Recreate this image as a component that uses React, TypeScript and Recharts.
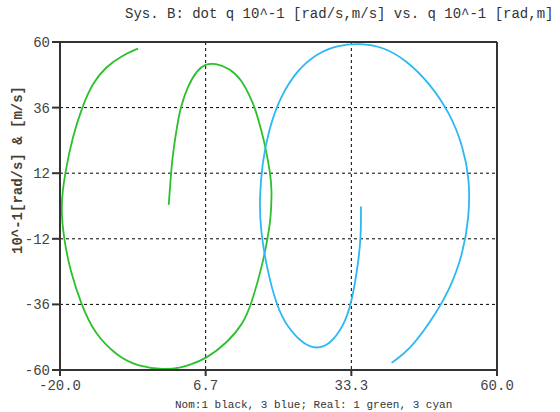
import { CartesianGrid, Line, LineChart, ReferenceLine, XAxis, YAxis } from 'recharts';

const xTicks = [-20, 6.667, 33.333, 60];
const yTicks = [-60, -36, -12, 12, 36, 60];

// Real 1 (green) trajectory
const greenX = [-0.1, 0.2, 0.5, 1.4, 2.05, 3.3, 5.1, 6.6, 8.4, 11.1, 13.3, 14.8, 15.7, 17.0, 17.6, 18.5, 18.8, 18.6, 18.0, 17.0, 15.0, 13.6, 10.6, 6.7, 3.9, 2.1, -1.0, -5.9, -9.5, -13.8, -16.1, -18.1, -19.3, -19.9, -19.1, -17.7, -16.0, -14.1, -11.65, -8.6, -5.7];
const greenY = [0.4, 8.3, 16.8, 29, 35.9, 43.6, 49.7, 51.9, 52.3, 50.3, 46, 39.9, 36, 26.6, 21.7, 12, 5.9, -4.4, -12, -22.1, -36, -42.8, -50.1, -55.9, -58, -59.2, -59.9, -58.6, -55, -46.4, -36, -24, -12, 0, 12, 25.3, 35.9, 44.8, 50.9, 55.1, 57.6];

// Real 3 (cyan) trajectory
const cyanX = [35.1, 35.1, 34.6, 33.4, 31.9, 29.4, 27.0, 24.6, 21.5, 19.7, 17.9, 16.7, 16.5, 17.0, 18.2, 20.3, 23.4, 27.0, 30.7, 34.9, 39.2, 43.45, 47.7, 51.4, 53.8, 55.0, 54.9, 53.8, 51.4, 47.7, 44.05, 40.7];
const cyanY = [-0.2, -11.2, -20.9, -35.5, -44, -50.7, -52.3, -50.7, -44, -36.7, -23.3, -8.7, 2.2, 15.6, 27.8, 39.9, 49.7, 55.8, 58.8, 59.6, 58.2, 53.3, 44.8, 33.9, 21.7, 9.5, -3.9, -17.2, -30.6, -42.8, -52.5, -57.4];

const zip = (xs: number[], ys: number[]) => xs.map((x, i) => ({ x, y: ys[i] }));
const green = zip(greenX, greenY);
const cyan = zip(cyanX, cyanY);

const mono = '"Liberation Mono", "DejaVu Sans Mono", monospace';
const tick = { fill: '#444', fontSize: 14, fontFamily: mono };

export default function App() {
  return (
    <div style={{ position: 'absolute', left: 0, top: 0, width: 560, height: 412, background: '#fff', overflow: 'hidden' }}>
      <div style={{ position: 'absolute', left: 125, top: 6, fontFamily: mono, fontSize: 14, color: '#333', whiteSpace: 'nowrap' }}>
        Sys. B: dot q 10^-1 [rad/s,m/s] vs. q 10^-1 [rad,m]
      </div>
      <div
        style={{
          position: 'absolute',
          left: 18,
          top: 170,
          transform: 'translate(-50%, -50%) rotate(-90deg)',
          fontFamily: mono,
          fontSize: 14,
          fontWeight: 700,
          color: '#4a4030',
          whiteSpace: 'nowrap',
        }}
      >
        10^-1[rad/s] &amp; [m/s]
      </div>
      <LineChart width={560} height={412} margin={{ top: 42, right: 63, left: 0, bottom: 0 }}>
        <CartesianGrid stroke="#000" strokeDasharray="3 3" />
        <XAxis
          dataKey="x"
          type="number"
          domain={[-20, 60]}
          ticks={xTicks}
          tickFormatter={(v: number) => v.toFixed(1)}
          allowDuplicatedCategory={false}
          height={42}
          tick={tick}
          tickSize={6}
          tickMargin={4}
          stroke="#333"
          strokeWidth={2}
        />
        <YAxis
          dataKey="y"
          type="number"
          domain={[-60, 60]}
          ticks={yTicks}
          width={60}
          tick={tick}
          tickSize={8}
          tickMargin={2}
          stroke="#333"
          strokeWidth={2}
        />
        <ReferenceLine y={60} stroke="#333" strokeWidth={2} />
        <ReferenceLine x={60} stroke="#333" strokeWidth={2} />
        <Line data={green} dataKey="y" type="basis" stroke="#2cc02c" strokeWidth={1.8} dot={false} isAnimationActive={false} />
        <Line data={cyan} dataKey="y" type="basis" stroke="#2bb8f5" strokeWidth={1.8} dot={false} isAnimationActive={false} />
      </LineChart>
      <div style={{ position: 'absolute', left: 175, top: 399, fontFamily: mono, fontSize: 11, color: '#333', whiteSpace: 'nowrap' }}>
        Nom:1 black, 3 blue; Real: 1 green, 3 cyan
      </div>
    </div>
  );
}
